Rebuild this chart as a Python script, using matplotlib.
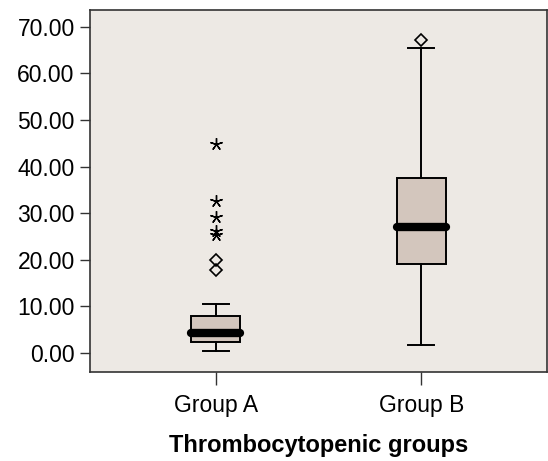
import matplotlib.pyplot as plt

plt.rcParams['font.family'] = ['Liberation Sans', 'DejaVu Sans']

# Dữ liệu
groups = ["Group A", "Group B"]
whisker_low = [0.5, 1.8]
q1 = [2.4, 19.0]
medians = [4.2, 27.0]
q3 = [8.0, 37.6]
whisker_high = [10.6, 65.5]
# ngoại lai (hình thoi) và cực trị (dấu sao)
outliers = [[17.9, 20.0], [67.1]]
extremes = [[44.9, 32.6, 29.1, 26.2, 25.3], []]

yticks = [0, 10, 20, 30, 40, 50, 60, 70]

stats = []
for i in range(len(groups)):
    stats.append({
        'label': groups[i],
        'whislo': whisker_low[i], 'q1': q1[i], 'med': medians[i],
        'q3': q3[i], 'whishi': whisker_high[i], 'fliers': [],
    })

fig = plt.figure(figsize=(5.48, 4.61), dpi=100)
ax = fig.add_axes([90 / 548, 1 - 372 / 461, 457 / 548, 362 / 461])
ax.set_facecolor('#ede9e4')
fig.patch.set_facecolor('white')

positions = [1, 2]
ax.bxp(stats, positions=positions, widths=0.24, patch_artist=True,
       showfliers=False,
       boxprops=dict(facecolor='#d3c6bd', edgecolor='black', linewidth=1.4),
       whiskerprops=dict(color='black', linewidth=1.4),
       capprops=dict(color='black', linewidth=1.4),
       medianprops=dict(color='black', linewidth=6, solid_capstyle='round'),
       capwidths=0.125)

for p, vals in zip(positions, outliers):
    ax.plot([p] * len(vals), vals, linestyle='none', marker='D', markersize=6,
            markerfacecolor='none', markeredgecolor='black', markeredgewidth=1.2)
for p, vals in zip(positions, extremes):
    ax.plot([p] * len(vals), vals, linestyle='none', marker=(5, 2, 0),
            markersize=9, color='black', markeredgewidth=1.0)

ax.set_xlim(0.389, 2.611)
ax.set_ylim(-4.1, 73.6)
ax.set_yticks(yticks)
ax.set_yticklabels([f"{v:.2f}" for v in yticks])
ax.set_xticks(positions)
ax.set_xticklabels(groups)
ax.tick_params(axis='both', labelsize=16.5, width=1, color='#333333')
ax.tick_params(axis='y', length=7, pad=4)
ax.tick_params(axis='x', length=9, pad=7)
ax.set_xlabel('Thrombocytopenic groups', fontsize=17, fontweight='bold', labelpad=12)
for s in ax.spines.values():
    s.set_color('#333333')
    s.set_linewidth(1.2)

plt.savefig('out.png', dpi=100)
